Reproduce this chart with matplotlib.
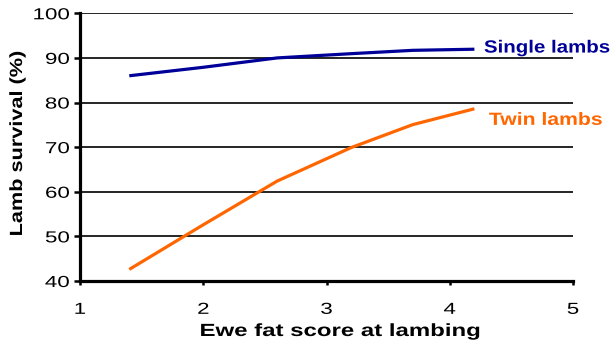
import matplotlib
matplotlib.use("Agg")
import matplotlib.pyplot as plt
from matplotlib.patheffects import AbstractPathEffect
from matplotlib.transforms import Affine2D

# Lamb survival by ewe fat score
fat_score = [1.4, 2.0, 2.6, 3.2, 3.7, 4.2]
single_lambs = [86.0, 87.9, 90.0, 90.95, 91.7, 91.95]
twin_lambs = [42.6, 52.6, 62.4, 69.9, 75.05, 78.6]

x_ticks = [1, 2, 3, 4, 5]
y_ticks = [40, 50, 60, 70, 80, 90, 100]

BLUE = "#000099"
ORANGE = "#FF6600"
FONT = "Liberation Sans"


class Widen(AbstractPathEffect):
    """Draw text glyphs stretched along the writing direction."""

    def __init__(self, sx, anchor=0.5):
        super().__init__()
        self.sx = sx
        self.anchor = anchor

    def draw_path(self, renderer, gc, tpath, affine, rgbFace=None):
        ext = tpath.get_extents()
        x0 = ext.x0 + self.anchor * ext.width
        t = Affine2D().translate(-x0, 0).scale(self.sx, 1).translate(x0, 0) + affine
        renderer.draw_path(gc, tpath, t, rgbFace)


fig = plt.figure(figsize=(6.12, 3.42), dpi=100)
ax = fig.add_axes([80 / 612, 61 / 342, 493 / 612, 267.7 / 342])

ax.plot(fat_score, single_lambs, color=BLUE, lw=2.3,
        solid_capstyle="butt", solid_joinstyle="round", zorder=3)
ax.plot(fat_score, twin_lambs, color=ORANGE, lw=2.3,
        solid_capstyle="butt", solid_joinstyle="round", zorder=3)

ax.set_xlim(1, 5)
ax.set_ylim(40, 100)
ax.set_xticks(x_ticks, [str(v) for v in x_ticks])
ax.set_yticks(y_ticks, [str(v) for v in y_ticks])

ax.yaxis.grid(True, color="black", lw=1.2)
ax.set_axisbelow(True)

for side in ("top", "right"):
    ax.spines[side].set_visible(False)
for side in ("left", "bottom"):
    ax.spines[side].set_linewidth(2.3)
    ax.spines[side].set_capstyle("projecting")

ax.tick_params(axis="y", direction="out", length=4.5, width=1.8, pad=3)
ax.tick_params(axis="x", direction="out", length=3, width=1.8, pad=12)

for lbl in ax.get_xticklabels():
    lbl.set_fontfamily(FONT)
    lbl.set_fontsize(11.5)
    lbl.set_path_effects([Widen(1.4, 0.5)])
for lbl in ax.get_yticklabels():
    lbl.set_fontfamily(FONT)
    lbl.set_fontsize(11.5)
    lbl.set_path_effects([Widen(1.4, 1.0)])

ax.set_xlabel("Ewe fat score at lambing", fontfamily=FONT, fontsize=12.7,
              fontweight="bold", va="baseline",
              path_effects=[Widen(1.36, 0.5)])
ax.xaxis.set_label_coords((340.5 - 80) / 493, (281 - 336) / 267.7)

ax.set_ylabel("Lamb survival (%)", fontfamily=FONT, fontsize=12.7,
              fontweight="bold", va="baseline",
              path_effects=[Widen(1.23, 0.5)])
ax.yaxis.set_label_coords((22 - 80) / 493, (281 - 143.5) / 267.7)

ax.text(4.278, 91.2, "Single lambs", color=BLUE, fontfamily=FONT,
        fontsize=12.7, fontweight="bold", ha="left", va="baseline",
        clip_on=False, path_effects=[Widen(1.16, 0.0)])
ax.text(4.318, 75.0, "Twin lambs", color=ORANGE, fontfamily=FONT,
        fontsize=12.7, fontweight="bold", ha="left", va="baseline",
        clip_on=False, path_effects=[Widen(1.2, 0.0)])

fig.savefig("out.png", dpi=100, facecolor="white")
